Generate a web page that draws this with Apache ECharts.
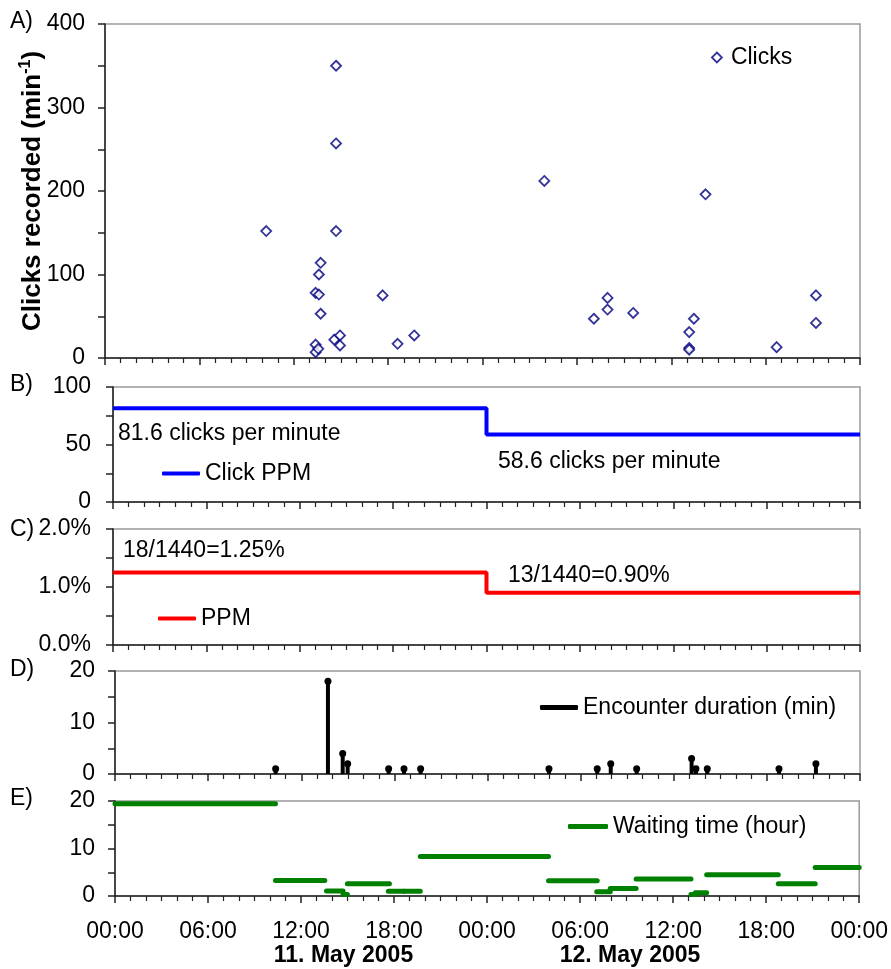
<!DOCTYPE html>
<html><head><meta charset="utf-8">
<script src="https://cdn.jsdelivr.net/npm/echarts@6/dist/echarts.min.js"></script>
<style>html,body{margin:0;padding:0;background:#fff}#c{width:891px;height:969px}</style>
</head><body><div id="c"></div>
<script>
// ---- DATA ----
// Panel A: individual click recordings (hour from 00:00 11 May 2005, clicks per minute)
const clickHours  = [10.25, 13.39, 13.39, 13.39, 13.56, 13.60, 13.60, 13.71, 13.71, 14.58, 14.69, 14.69, 14.69, 14.94, 14.94, 17.65, 18.60, 19.66,
                     27.93, 31.08, 31.95, 31.95, 33.58, 37.14, 37.14, 37.14, 37.44, 38.18, 42.70, 45.20, 45.20];
const clickValues = [152, 78, 16, 7, 11, 100, 76, 114, 53, 22, 350, 257, 152, 27, 15, 75, 17, 27,
                     212, 47, 72, 58, 54, 31, 12, 10, 47, 196, 13, 75, 42];
// Panel B/C: daily rates
const dayStart = [0, 24, 48];
const clickPPM = [81.6, 58.6, 58.6];
const ppmRate  = [0.0125, 0.0090, 0.0090];
const encountersPerDay = [18, 13];
// Panel D: encounters
const encHours = [10.35, 13.72, 14.67, 14.99, 17.63, 18.62, 19.69, 27.96, 31.07, 31.94, 33.61, 37.15, 37.43, 38.16, 42.78, 45.16];
const encDur   = [1, 18, 4, 2, 1, 1, 1, 1, 1, 2, 1, 3, 1, 1, 1, 2];
// Panel E: waiting time between encounters
const waitStart = [0, 10.35, 13.64, 14.71, 14.99, 17.63, 18.62, 19.69, 27.96, 31.07, 31.94, 33.61, 37.15, 37.43, 38.16, 42.78, 45.16];
const waitEnd   = [10.35, 13.53, 14.71, 14.99, 17.70, 18.62, 19.69, 27.96, 31.10, 31.94, 33.61, 37.15, 37.43, 38.16, 42.78, 45.16, 48];
const waitValue = [19.4, 3.25, 1.05, 0.3, 2.6, 1.0, 1.0, 8.3, 3.2, 0.9, 1.6, 3.6, 0.3, 0.7, 4.5, 2.6, 6.0];
// Axis labels
const hourTicks = [0, 6, 12, 18, 24, 30, 36, 42, 48];
const dayLabels = ['11. May 2005', '12. May 2005'];

// ---- CHART ----
const FONT = "'Liberation Sans', Arial, sans-serif";
const FS = 23;
const chart = echarts.init(document.getElementById('c'), null, {renderer: 'canvas'});

const grids = [
  {left: 105, top: 24,  width: 755, height: 334},
  {left: 113, top: 387, width: 747, height: 115},
  {left: 113, top: 529, width: 747, height: 116},
  {left: 115, top: 671, width: 745, height: 103},
  {left: 115, top: 801, width: 745, height: 95}
].map(g => Object.assign(g, {show: true, borderColor: '#9a9a9a', borderWidth: 1.5, backgroundColor: 'transparent'}));

const axisLineStyle = {lineStyle: {color: '#222', width: 1.5}};
function xAxis(i, labels) {
  return {
    gridIndex: i, type: 'value', min: 0, max: 48, interval: 6,
    axisLine: Object.assign({show: true, onZero: false}, axisLineStyle),
    axisTick: {show: true, inside: false, length: 7, lineStyle: {color: '#222', width: 1.5}},
    minorTick: {show: true, splitNumber: 6, length: 5, lineStyle: {color: '#222', width: 1.2}},
    splitLine: {show: false},
    axisLabel: {show: labels, margin: 24, color: '#000', fontFamily: FONT, fontSize: FS,
      formatter: v => hourTicks.includes(v) ? String(v % 24).padStart(2, '0') + ':00' : ''}
  };
}
function yAxis(i, max, interval, fmt, margin, extra) {
  return Object.assign({
    gridIndex: i, type: 'value', min: 0, max: max, interval: interval,
    axisLine: Object.assign({show: true}, axisLineStyle),
    axisTick: {show: true, inside: false, length: 7, lineStyle: {color: '#222', width: 1.5}},
    minorTick: {show: true, splitNumber: 2, length: 7, lineStyle: {color: '#222', width: 1.5}},
    splitLine: {show: false},
    axisLabel: {margin: margin, color: '#000', fontFamily: FONT, fontSize: FS, formatter: fmt}
  }, extra || {});
}

const stepData = arr => dayStart.map((d, i) => [d, arr[i]]);

const option = {
  animation: false,
  backgroundColor: '#fff',
  grid: grids,
  xAxis: [xAxis(0, false), xAxis(1, false), xAxis(2, false), xAxis(3, false), xAxis(4, true)],
  yAxis: [
    yAxis(0, 400, 100, v => v, 20, {
      name: '{a|Clicks recorded (min}{s|-1}{a|)}', nameLocation: 'middle', nameGap: 57, nameRotate: 90,
      nameMoveOverlap: false,
      nameTextStyle: {rich: {
        a: {fontFamily: FONT, fontSize: 26, fontWeight: 'bold', color: '#000'},
        s: {fontFamily: FONT, fontSize: 16, fontWeight: 'bold', color: '#000', verticalAlign: 'top', lineHeight: 30}
      }}
    }),
    yAxis(1, 100, 50, v => v, 22),
    yAxis(2, 0.02, 0.01, v => (v * 100).toFixed(1) + '%', 22),
    yAxis(3, 20, 10, v => v, 20),
    yAxis(4, 20, 10, v => v, 20)
  ],
  legend: [
    {left: 711, top: 46, padding: 0, itemWidth: 10, itemHeight: 10, selectedMode: false,
     textStyle: {fontFamily: FONT, fontSize: FS, color: '#000', padding: [0, 0, 0, 4]},
     data: [{name: 'Clicks', icon: 'diamond', itemStyle: {color: '#fff', borderColor: '#000080', borderWidth: 1.8}}]},
    {left: 162, top: 462, padding: 0, itemWidth: 38, itemHeight: 4, selectedMode: false,
     textStyle: {fontFamily: FONT, fontSize: FS, color: '#000'},
     data: [{name: 'Click PPM', icon: 'roundRect', itemStyle: {color: '#0000ff'}}]},
    {left: 158, top: 607, padding: 0, itemWidth: 38, itemHeight: 4, selectedMode: false,
     textStyle: {fontFamily: FONT, fontSize: FS, color: '#000'},
     data: [{name: 'PPM', icon: 'roundRect', itemStyle: {color: '#ff0000'}}]},
    {left: 540, top: 696, padding: 0, itemWidth: 38, itemHeight: 5, selectedMode: false,
     textStyle: {fontFamily: FONT, fontSize: FS, color: '#000'},
     data: [{name: 'Encounter duration (min)', icon: 'roundRect', itemStyle: {color: '#000'}}]},
    {left: 568, top: 815, padding: 0, itemWidth: 40, itemHeight: 5, selectedMode: false,
     textStyle: {fontFamily: FONT, fontSize: FS, color: '#000'},
     data: [{name: 'Waiting time (hour)', icon: 'roundRect', itemStyle: {color: '#008000'}}]}
  ],
  series: [
    {name: 'Clicks', type: 'scatter', xAxisIndex: 0, yAxisIndex: 0, symbol: 'diamond', symbolSize: 10,
     itemStyle: {color: '#fff', borderColor: '#000080', borderWidth: 1.8},
     data: clickHours.map((h, i) => [h, clickValues[i]])},
    {name: 'Click PPM', type: 'line', xAxisIndex: 1, yAxisIndex: 1, step: 'end', symbol: 'none',
     lineStyle: {color: '#0000ff', width: 4}, itemStyle: {color: '#0000ff'}, data: stepData(clickPPM)},
    {name: 'PPM', type: 'line', xAxisIndex: 2, yAxisIndex: 2, step: 'end', symbol: 'none',
     lineStyle: {color: '#ff0000', width: 4}, itemStyle: {color: '#ff0000'}, data: stepData(ppmRate)},
    {name: 'Encounter duration (min)', type: 'custom', xAxisIndex: 3, yAxisIndex: 3,
     itemStyle: {color: '#000'},
     data: encHours.map((h, i) => [h, encDur[i]]),
     encode: {x: 0, y: 1},
     renderItem: (params, api) => {
       const p0 = api.coord([api.value(0), 0]);
       const p1 = api.coord([api.value(0), api.value(1)]);
       return {type: 'group', children: [
         {type: 'line', shape: {x1: p0[0], y1: p0[1], x2: p1[0], y2: p1[1]}, style: {stroke: '#000', lineWidth: 4}},
         {type: 'circle', shape: {cx: p1[0], cy: p1[1], r: 3.5}, style: {fill: '#000'}}
       ]};
     }},
    {name: 'Waiting time (hour)', type: 'custom', xAxisIndex: 4, yAxisIndex: 4,
     itemStyle: {color: '#008000'},
     data: waitStart.map((s, i) => [s, waitEnd[i], waitValue[i]]),
     encode: {x: [0, 1], y: 2},
     renderItem: (params, api) => {
       const p0 = api.coord([api.value(0), api.value(2)]);
       const p1 = api.coord([api.value(1), api.value(2)]);
       return {type: 'line', shape: {x1: p0[0], y1: p0[1], x2: p1[0], y2: p1[1]},
               style: {stroke: '#008000', lineWidth: 5, lineCap: 'round'}};
     }}
  ],
  graphic: [
    ...['A)', 'B)', 'C)', 'D)', 'E)'].map((t, i) => ({
      type: 'text', x: 10, y: [22, 385, 530, 670, 799][i],
      style: {text: t, font: FS + 'px ' + FONT, fill: '#000', verticalAlign: 'middle'}
    })),
    {type: 'text', x: 118, y: 434, style: {text: clickPPM[0] + ' clicks per minute', font: FS + 'px ' + FONT, fill: '#000', verticalAlign: 'middle'}},
    {type: 'text', x: 498, y: 462, style: {text: clickPPM[1] + ' clicks per minute', font: FS + 'px ' + FONT, fill: '#000', verticalAlign: 'middle'}},
    {type: 'text', x: 123, y: 551, style: {text: encountersPerDay[0] + '/1440=' + (ppmRate[0] * 100).toFixed(2) + '%', font: FS + 'px ' + FONT, fill: '#000', verticalAlign: 'middle'}},
    {type: 'text', x: 508, y: 576, style: {text: encountersPerDay[1] + '/1440=' + (ppmRate[1] * 100).toFixed(2) + '%', font: FS + 'px ' + FONT, fill: '#000', verticalAlign: 'middle'}},
    {type: 'text', x: 343.5, y: 956, style: {text: dayLabels[0], font: 'bold ' + FS + 'px ' + FONT, fill: '#000', align: 'center', verticalAlign: 'middle'}},
    {type: 'text', x: 630, y: 956, style: {text: dayLabels[1], font: 'bold ' + FS + 'px ' + FONT, fill: '#000', align: 'center', verticalAlign: 'middle'}}
  ]
};
chart.setOption(option);
</script>
</body></html>
